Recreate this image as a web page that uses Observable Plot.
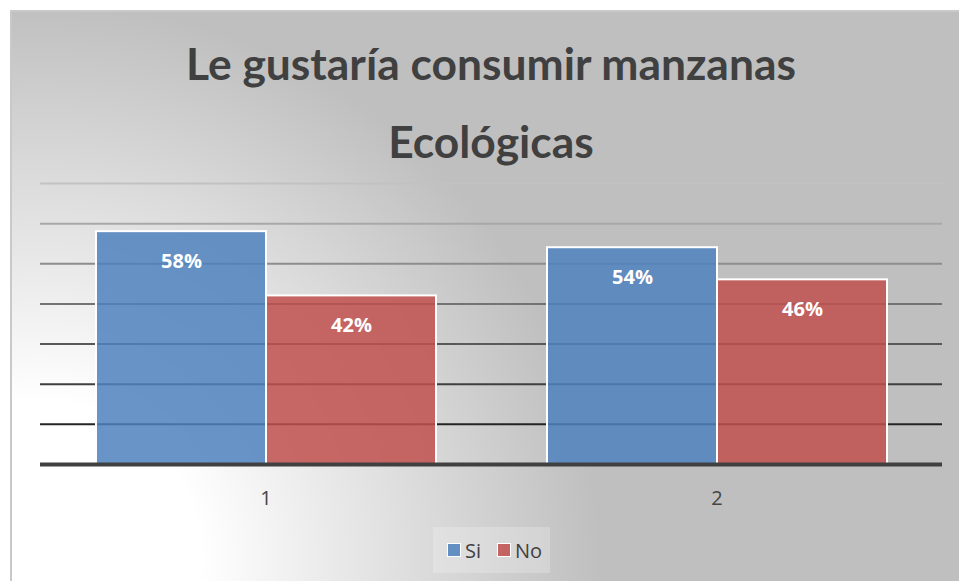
<!DOCTYPE html>
<html>
<head>
<meta charset="utf-8">
<script src="https://cdn.jsdelivr.net/npm/d3@7"></script>
<script src="https://cdn.jsdelivr.net/npm/@observablehq/plot@0.6"></script>
<style>
  html, body { margin: 0; padding: 0; background: #ffffff; }
  body { width: 959px; height: 581px; overflow: hidden; position: relative; }
  #frame {
    position: absolute; left: 10px; top: 10px; width: 960px; height: 580px;
    border-left: 2px solid #c9c9c9; border-top: 2px solid #c9c9c9;
    background: radial-gradient(circle at 28px 550px, #ffffff 0px, #ffffff 160px, #bfbfbf 560px);
  }
  .title {
    position: absolute; left: 0; width: 982px; text-align: center;
    font-family: Lato, sans-serif; font-weight: bold; font-size: 44px; line-height: 44px;
    color: #404040; white-space: nowrap;
  }
  #chart { position: absolute; left: 0; top: 170px; }
  #legend {
    position: absolute; left: 433px; top: 527px; width: 117px; height: 46px;
    background: rgba(255,255,255,0.22);
    font-family: "Open Sans", sans-serif; font-size: 20px; color: #404040;
  }
  .item { position: absolute; top: 0; height: 46px; display: flex; align-items: center; }
  .sw { width: 12px; height: 12px; border: 1.5px solid #ffffff; margin-right: 4px; }
</style>
</head>
<body>
<div id="frame"></div>
<div class="title" id="t1" style="top:41px">Le gustaría consumir manzanas</div>
<div class="title" id="t2" style="top:119px">Ecológicas</div>
<div id="chart"></div>
<div id="legend"></div>
<script>
// ---- data ----
const groups = ["1", "2"];
const series = ["Si", "No"];
const siValues = [58, 54];
const noValues = [42, 46];
const gridTicks = [10, 20, 30, 40, 50, 60, 70];
const seriesColors = ["#4f81bd", "#c0504d"];

const data = groups.flatMap((g, i) => [
  {group: g, series: series[0], value: siValues[i]},
  {group: g, series: series[1], value: noValues[i]}
]);
const colorOf = s => seriesColors[series.indexOf(s)];
const gridColor = d => d3.interpolateRgb("#0a0a0a", "#c2c2c2")(d / 70);

const chart = Plot.plot({
  width: 959,
  height: 350,
  marginTop: 13,
  marginBottom: 56,
  marginLeft: 40,
  marginRight: 17,
  style: {background: "transparent", fontFamily: "'Open Sans', sans-serif", fontSize: "20px", color: "#454545", overflow: "visible"},
  fx: {domain: groups, padding: 0, label: null, axis: "bottom", tickSize: 0, tickPadding: 26},
  x: {domain: series, paddingInner: 0, paddingOuter: 0.326, axis: null},
  y: {domain: [0, 70], axis: null},
  color: {type: "identity"},
  marks: [
    Plot.ruleY(gridTicks, {stroke: gridColor, strokeWidth: 2}),
    Plot.barY(data, {fx: "group", x: "series", y: "value", fill: d => colorOf(d.series), fillOpacity: 0.85, stroke: "white", strokeWidth: 2}),
    Plot.ruleY([0], {stroke: "#404040", strokeWidth: 4}),
    Plot.text(data, {fx: "group", x: "series", y: "value", text: d => d.value + "%", dy: 30, fill: "white", fontWeight: "bold", fontSize: 20})
  ]
});
document.getElementById("chart").appendChild(chart);

// legend
const legend = document.getElementById("legend");
const itemLeft = [14, 64];
series.forEach((s, i) => {
  const item = document.createElement("div");
  item.className = "item";
  item.style.left = itemLeft[i] + "px";
  const sw = document.createElement("span");
  sw.className = "sw";
  sw.style.background = d3.color(colorOf(s)).copy({opacity: 0.85}).formatRgb();
  const lab = document.createElement("span");
  lab.textContent = s;
  item.appendChild(sw);
  item.appendChild(lab);
  legend.appendChild(item);
});

// fit title width
(function fit() {
  const t1 = document.getElementById("t1");
  const t2 = document.getElementById("t2");
  const span = document.createElement("span");
  span.textContent = t1.textContent;
  span.style.cssText = "font-family:Lato,sans-serif;font-weight:bold;font-size:44px;position:absolute;visibility:hidden;white-space:nowrap";
  document.body.appendChild(span);
  const w = span.getBoundingClientRect().width;
  span.remove();
  const fs = Math.max(36, Math.min(50, 44 * 610 / w));
  [t1, t2].forEach(t => { t.style.fontSize = fs + "px"; });
})();
</script>
</body>
</html>
